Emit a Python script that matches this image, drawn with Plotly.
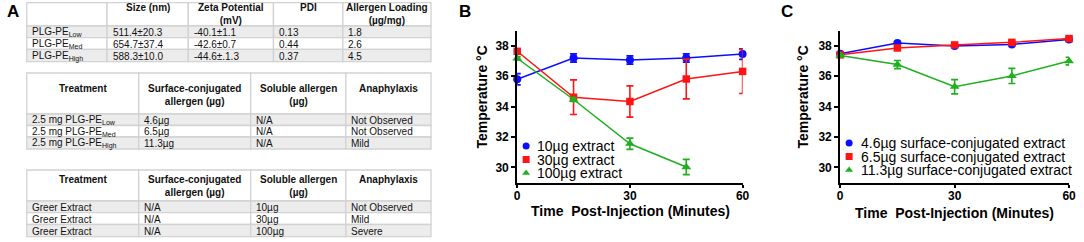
import plotly.graph_objects as go

W, H = 1084, 242
FONT = "Arial, 'Liberation Sans', sans-serif"

# ---------------- data : panel B (soluble extract) ----------------
time_min = [0, 15, 30, 45, 60]
time_min_100 = [0, 15, 30, 45]
b_10ug = [35.79, 37.19, 37.06, 37.19, 37.45]
b_10ug_err = [0.37, 0.27, 0.27, 0.27, 0.35]
b_30ug = [37.63, 34.61, 34.33, 35.81, 36.31]
b_30ug_err = [0.10, 1.14, 1.03, 1.31, 1.45]
b_100ug = [37.17, 34.46, 31.55, 30.02]
b_100ug_err = [0.10, 0.12, 0.37, 0.50]
b_names = ["10µg extract", "30µg extract", "100µg extract"]

# ---------------- data : panel C (surface-conjugated) ----------------
c_46ug = [37.47, 38.18, 37.98, 38.08, 38.40]
c_46ug_err = [0.08, 0.08, 0.08, 0.08, 0.08]
c_65ug = [37.40, 37.85, 38.05, 38.22, 38.47]
c_65ug_err = [0.08, 0.08, 0.08, 0.08, 0.08]
c_113ug = [37.36, 36.76, 35.30, 36.01, 36.99]
c_113ug_err = [0.08, 0.27, 0.47, 0.50, 0.25]
c_names = ["4.6µg surface-conjugated extract",
           "6.5µg surface-conjugated extract",
           "11.3µg surface-conjugated extract"]

x_ticks = [0, 30, 60]
y_ticks = [30, 32, 34, 36, 38]

# ---------------- data : panel A tables ----------------
t1_header = ["", "Size (nm)", "Zeta Potential<br>(mV)", "PDI", "Allergen Loading<br>(µg/mg)"]
t1_formulation = ["PLG-PE<sub>Low</sub>", "PLG-PE<sub>Med</sub>", "PLG-PE<sub>High</sub>"]
t1_size = ["511.4±20.3", "654.7±37.4", "588.3±10.0"]
t1_zeta = ["-40.1±1.1", "-42.6±0.7", "-44.6±.1.3"]
t1_pdi = ["0.13", "0.44", "0.37"]
t1_loading = ["1.8", "2.6", "4.5"]

t2_header = ["Treatment", "Surface-conjugated<br>allergen (µg)", "Soluble allergen<br>(µg)", "Anaphylaxis"]
t2_treatment = ["2.5 mg PLG-PE<sub>Low</sub>", "2.5 mg PLG-PE<sub>Med</sub>", "2.5 mg PLG-PE<sub>High</sub>"]
t2_surface = ["4.6µg", "6.5µg", "11.3µg"]
t2_soluble = ["N/A", "N/A", "N/A"]
t2_anaphylaxis = ["Not Observed", "Not Observed", "Mild"]

t3_header = ["Treatment", "Surface-conjugated<br>allergen (µg)", "Soluble allergen<br>(µg)", "Anaphylaxis"]
t3_treatment = ["Greer Extract", "Greer Extract", "Greer Extract"]
t3_surface = ["N/A", "N/A", "N/A"]
t3_soluble = ["10µg", "30µg", "100µg"]
t3_anaphylaxis = ["Not Observed", "Mild", "Severe"]

# ---------------- style ----------------
BLUE, RED, GREEN = "#0d0dff", "#ff1414", "#1faf1f"
COLORS = [BLUE, RED, GREEN]
SYMBOLS = ["circle", "square", "triangle-up"]
SIZES = [8, 7.5, 8.5]
GRAY_ROW, WHITE_ROW, BORDER = "#ececec", "#ffffff", "#d2d2d2"

fig = go.Figure()

def add_series(x, y, err, color, symbol, size, xa, ya):
    fig.add_trace(go.Scatter(
        x=x, y=y, mode="lines+markers", xaxis=xa, yaxis=ya,
        line=dict(color=color, width=1.5),
        marker=dict(color=color, symbol=symbol, size=size),
        error_y=dict(type="data", array=err, color=color, thickness=1.6, width=3.5),
        cliponaxis=False, showlegend=False))

# panel B
add_series(time_min, b_10ug, b_10ug_err, BLUE, SYMBOLS[0], SIZES[0], "x", "y")
add_series(time_min, b_30ug, b_30ug_err, RED, SYMBOLS[1], SIZES[1], "x", "y")
add_series(time_min_100, b_100ug, b_100ug_err, GREEN, SYMBOLS[2], SIZES[2], "x", "y")
# panel C
add_series(time_min, c_46ug, c_46ug_err, BLUE, SYMBOLS[0], SIZES[0], "x2", "y2")
add_series(time_min, c_65ug, c_65ug_err, RED, SYMBOLS[1], SIZES[1], "x2", "y2")
add_series(time_min, c_113ug, c_113ug_err, GREEN, SYMBOLS[2], SIZES[2], "x2", "y2")

# ---------------- layout helpers (pixel overlay axis x3/y3) ----------------
shapes, annos = [], []

def text(x, y, s, size=10, bold=False, xanchor="left", yanchor="middle", angle=0, color="#111"):
    annos.append(dict(x=x, y=y, xref="x3", yref="y3", text=s, showarrow=False,
                      xanchor=xanchor, yanchor=yanchor, textangle=angle,
                      font=dict(family=FONT, size=size, color=color,
                                weight="bold" if bold else "normal")))

def draw_table(col_edges, row_edges, header, columns, header_line_y):
    nrows = len(columns[0])
    for j, h in enumerate(header):
        x0, x1 = col_edges[j], col_edges[j + 1]
        shapes.append(dict(type="rect", xref="x3", yref="y3", x0=x0, x1=x1,
                           y0=row_edges[0], y1=row_edges[1], fillcolor=WHITE_ROW,
                           line=dict(color=BORDER, width=1.3), layer="below"))
        if h:
            nl = h.count("<br>") + 1
            text((x0 + x1) / 2, header_line_y + (nl - 1) * 6.5, h, bold=True, xanchor="center")
    for i in range(nrows):
        y0, y1 = row_edges[i + 1], row_edges[i + 2]
        fill = GRAY_ROW if i % 2 == 0 else WHITE_ROW
        for j, col in enumerate(columns):
            x0, x1 = col_edges[j], col_edges[j + 1]
            shapes.append(dict(type="rect", xref="x3", yref="y3", x0=x0, x1=x1,
                               y0=y0, y1=y1, fillcolor=fill,
                               line=dict(color=BORDER, width=1.3), layer="below"))
            text(x0 + 3.5, (y0 + y1) / 2 + 0.5, col[i])

draw_table([24, 105, 187, 273, 343, 432], [2.7, 26, 37.7, 49.3, 61.7], t1_header,
           [t1_formulation, t1_size, t1_zeta, t1_pdi, t1_loading], 7.5)
draw_table([24, 137, 250, 346, 432], [73, 114, 125.5, 137, 149], t2_header,
           [t2_treatment, t2_surface, t2_soluble, t2_anaphylaxis], 88.5)
draw_table([24, 137, 250, 346, 432], [170, 201, 212.7, 224.5, 236.7], t3_header,
           [t3_treatment, t3_surface, t3_soluble, t3_anaphylaxis], 179)

# panel letters
text(10, 11, "A", size=17, bold=True, xanchor="center", color="#000")
text(466, 11, "B", size=17, bold=True, xanchor="center", color="#000")
text(791, 11, "C", size=17, bold=True, xanchor="center", color="#000")

# axis titles
text(483, 97, "Temperature °C", size=14, bold=True, xanchor="center", angle=-90, color="#000")
text(807, 97, "Temperature °C", size=14, bold=True, xanchor="center", angle=-90, color="#000")
text(633, 211, "Time\u00a0 Post-Injection (Minutes)", size=14, bold=True, xanchor="center", color="#000")
text(960, 213, "Time\u00a0 Post-Injection (Minutes)", size=14, bold=True, xanchor="center", color="#000")

# manual legends
def legend(names, mx, tx, ys):
    for k, nm in enumerate(names):
        fig.add_trace(go.Scatter(x=[mx], y=[ys[k]], xaxis="x3", yaxis="y3", mode="markers",
                                 marker=dict(color=COLORS[k], symbol=SYMBOLS[k], size=7),
                                 cliponaxis=False, showlegend=False, hoverinfo="skip"))
        text(tx, ys[k], nm, size=14, color="#000")

legend(b_names, 528, 537, [146, 159.5, 173])
legend(c_names, 854, 864, [143, 156.5, 170])

# ---------------- axes ----------------
def px_x(a, b):
    return [a / W, b / W]

y_dom = [1 - 182.5 / H, 1 - 30.5 / H]
axis_common = dict(showline=True, linecolor="#000", linewidth=2, ticks="outside",
                   tickwidth=1.6, tickcolor="#000", showgrid=False, zeroline=False,
                   tickfont=dict(family=FONT, size=12, color="#000", weight="bold"),
                   fixedrange=True)

fig.update_layout(
    width=W, height=H, autosize=False,
    margin=dict(l=0, r=0, t=0, b=0),
    paper_bgcolor="#fff", plot_bgcolor="rgba(0,0,0,0)",
    font=dict(family=FONT),
    xaxis=dict(domain=px_x(519, 746.5), range=[0, 60], tickvals=x_ticks, anchor="y",
               ticklen=3, ticklabelstandoff=-2, **axis_common),
    yaxis=dict(domain=y_dom, range=[29, 39], tickvals=y_ticks, anchor="x",
               ticklen=4, **axis_common),
    xaxis2=dict(domain=px_x(845, 1076), range=[0, 60], tickvals=x_ticks, anchor="y2",
                ticklen=3, ticklabelstandoff=-2, **axis_common),
    yaxis2=dict(domain=y_dom, range=[29, 39], tickvals=y_ticks, anchor="x2",
                ticklen=4, **axis_common),
    xaxis3=dict(domain=[0, 1], range=[0, W], visible=False, anchor="y3", fixedrange=True),
    yaxis3=dict(domain=[0, 1], range=[H, 0], visible=False, anchor="x3", fixedrange=True),
    shapes=shapes, annotations=annos, showlegend=False,
)

fig.write_html("out.html", config={"displayModeBar": False},
               post_script="document.body.style.margin='0';document.body.style.overflow='hidden';")
